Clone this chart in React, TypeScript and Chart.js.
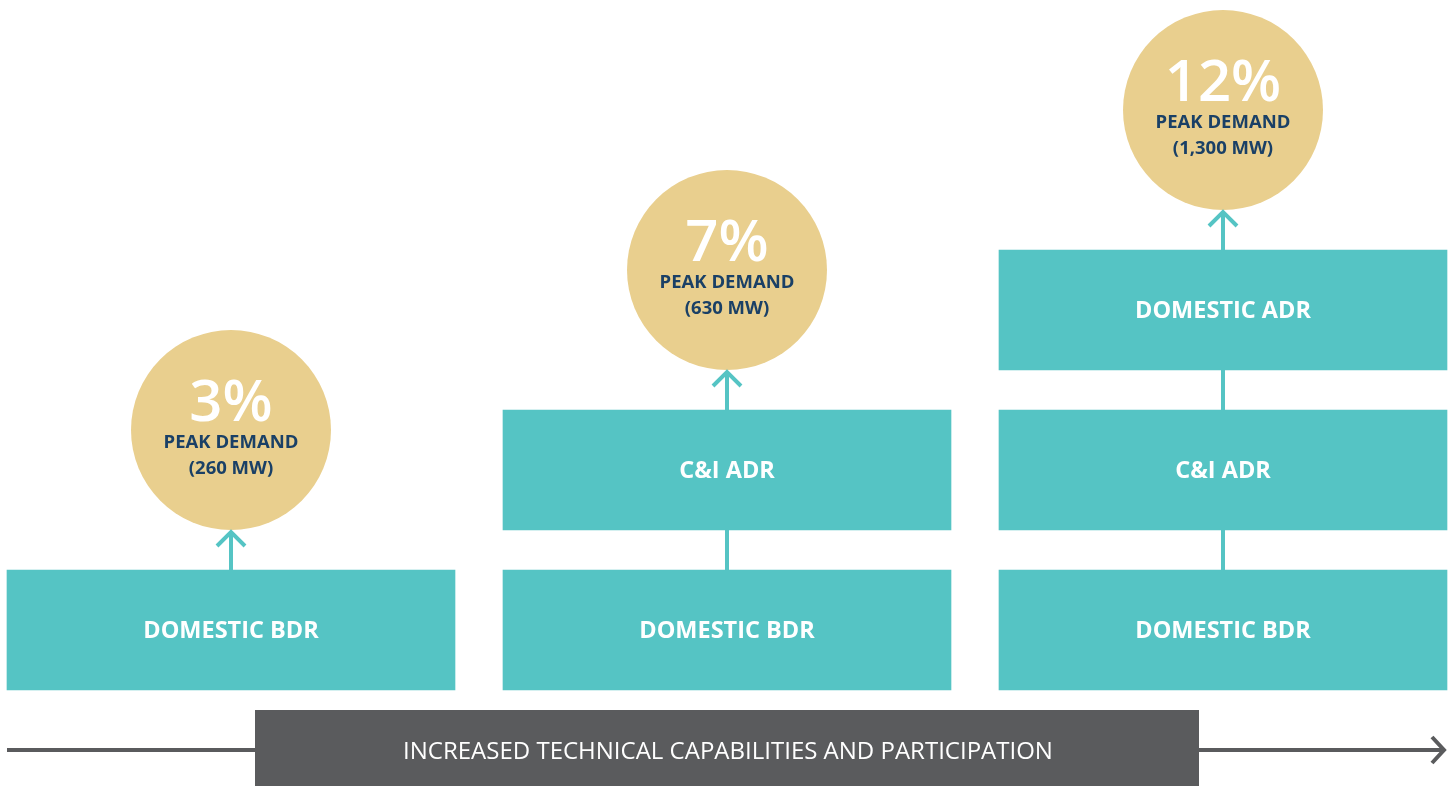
import React, { useEffect, useRef } from "react";
import { Chart, registerables } from "chart.js";

Chart.register(...registerables);

// ---- data ----
const stages = ["Stage 1", "Stage 2", "Stage 3"];
const blockNames = ["DOMESTIC BDR", "C&I ADR", "DOMESTIC ADR"];
const domesticBdr = [[0, 3], [0, 3], [0, 3]];
const cAndIAdr = [null, [4, 7], [4, 7]];
const domesticAdr = [null, null, [8, 11]];
const peakLevel = [6.5, 10.5, 14.5];
const peakPercent = ["3%", "7%", "12%"];
const peakMw = ["(260 MW)", "(630 MW)", "(1,300 MW)"];
const peakCaption = "PEAK DEMAND";
const progressLabel = "INCREASED TECHNICAL CAPABILITIES AND PARTICIPATION";

// ---- styles ----
const TEAL = "#55C4C4";
const GOLD = "#E9CF8E";
const NAVY = "#1A4066";
const GRAY = "#5A5B5D";
const FONT = "'Open Sans', 'Noto Sans', sans-serif";

const overlay = {
  id: "overlay",
  beforeDatasetsDraw(chart: any) {
    const ctx = chart.ctx;
    const area = chart.chartArea;
    const base = chart.getDatasetMeta(0).data;
    const first = base[0];
    const last = base[base.length - 1];
    const xl = first.x - first.width / 2;
    const xr = last.x + last.width / 2;
    const y = area.bottom + 60;
    ctx.save();
    ctx.strokeStyle = GRAY;
    ctx.lineWidth = 4;
    ctx.beginPath();
    ctx.moveTo(xl, y);
    ctx.lineTo(xr - 3, y);
    ctx.stroke();
    ctx.lineJoin = "miter";
    ctx.beginPath();
    ctx.moveTo(xr - 15, y - 13);
    ctx.lineTo(xr - 3, y);
    ctx.lineTo(xr - 15, y + 13);
    ctx.stroke();
    const rl = first.x + 24;
    const rr = last.x - 24;
    ctx.fillStyle = GRAY;
    ctx.fillRect(rl, area.bottom + 20, rr - rl, chart.height - area.bottom - 20);
    ctx.fillStyle = "#FFFFFF";
    ctx.font = `400 24px ${FONT}`;
    ctx.textAlign = "center";
    ctx.textBaseline = "middle";
    ctx.fillText(progressLabel, (rl + rr) / 2 + 1, y + 2);
    ctx.restore();
  },
  afterDatasetsDraw(chart: any) {
    const ctx = chart.ctx;
    ctx.save();
    ctx.textAlign = "center";
    ctx.textBaseline = "middle";
    const circles = chart.getDatasetMeta(3).data;
    for (let i = 0; i < stages.length; i++) {
      const blocks: { el: any; d: number }[] = [];
      for (let d = 0; d < 3; d++) {
        const el = chart.getDatasetMeta(d).data[i];
        const raw = chart.data.datasets[d].data[i];
        if (el && raw) blocks.push({ el, d });
      }
      // block labels
      ctx.fillStyle = "#FFFFFF";
      ctx.font = `700 23.5px ${FONT}`;
      blocks.forEach(({ el, d }) => {
        ctx.fillText(blockNames[d], el.x, (el.y + el.base) / 2 + 1);
      });
      // connectors
      ctx.strokeStyle = TEAL;
      ctx.lineWidth = 4;
      ctx.lineCap = "butt";
      for (let k = 0; k < blocks.length - 1; k++) {
        const lo = blocks[k].el;
        const hi = blocks[k + 1].el;
        ctx.beginPath();
        ctx.moveTo(lo.x, Math.min(lo.y, lo.base));
        ctx.lineTo(hi.x, Math.max(hi.y, hi.base));
        ctx.stroke();
      }
      const top = blocks[blocks.length - 1].el;
      const c = circles[i];
      const cb = c.y + c.options.radius;
      ctx.beginPath();
      ctx.moveTo(top.x, Math.min(top.y, top.base));
      ctx.lineTo(top.x, cb + 2);
      ctx.stroke();
      ctx.lineJoin = "miter";
      ctx.beginPath();
      ctx.moveTo(top.x - 14, cb + 16);
      ctx.lineTo(top.x, cb + 2);
      ctx.lineTo(top.x + 14, cb + 16);
      ctx.stroke();
      // circle text
      ctx.fillStyle = "#FFFFFF";
      ctx.font = `600 58px ${FONT}`;
      ctx.fillText(peakPercent[i], c.x, c.y - 26);
      ctx.fillStyle = NAVY;
      ctx.font = `700 18.5px ${FONT}`;
      ctx.fillText(peakCaption, c.x, c.y + 13);
      ctx.fillText(peakMw[i], c.x, c.y + 39);
    }
    ctx.restore();
  },
};

export default function App() {
  const ref = useRef<HTMLCanvasElement | null>(null);
  useEffect(() => {
    document.body.style.margin = "0";
    document.body.style.overflow = "hidden";
    const canvas = ref.current!;
    const barStyle = {
      backgroundColor: TEAL,
      borderWidth: 0,
      barThickness: 448,
      grouped: false,
      clip: false as any,
    };
    const chart = new Chart(canvas, {
      type: "bar",
      data: {
        labels: stages,
        datasets: [
          { label: blockNames[0], data: domesticBdr as any, ...barStyle },
          { label: blockNames[1], data: cAndIAdr as any, ...barStyle },
          { label: blockNames[2], data: domesticAdr as any, ...barStyle },
          {
            type: "bubble" as any,
            label: "Peak demand",
            data: stages.map((s, i) => ({ x: s, y: peakLevel[i] })) as any,
            backgroundColor: GOLD,
            borderWidth: 0,
            radius: 100,
            hoverRadius: 0,
            clip: false as any,
          } as any,
        ],
      },
      options: {
        responsive: false,
        animation: false,
        devicePixelRatio: 1,
        events: [],
        layout: { autoPadding: false, padding: { left: 231, right: 230, top: 10, bottom: 96 } },
        plugins: { legend: { display: false }, tooltip: { enabled: false } },
        scales: {
          x: { type: "category", offset: false, display: false },
          y: { type: "linear", min: 0, max: 17, display: false },
        },
      },
      plugins: [overlay],
    });
    return () => chart.destroy();
  }, []);
  return (
    <div style={{ position: "fixed", left: 0, top: 0, width: 1453, height: 786, background: "#fff" }}>
      <canvas ref={ref} width={1453} height={786} style={{ display: "block" }} />
    </div>
  );
}
